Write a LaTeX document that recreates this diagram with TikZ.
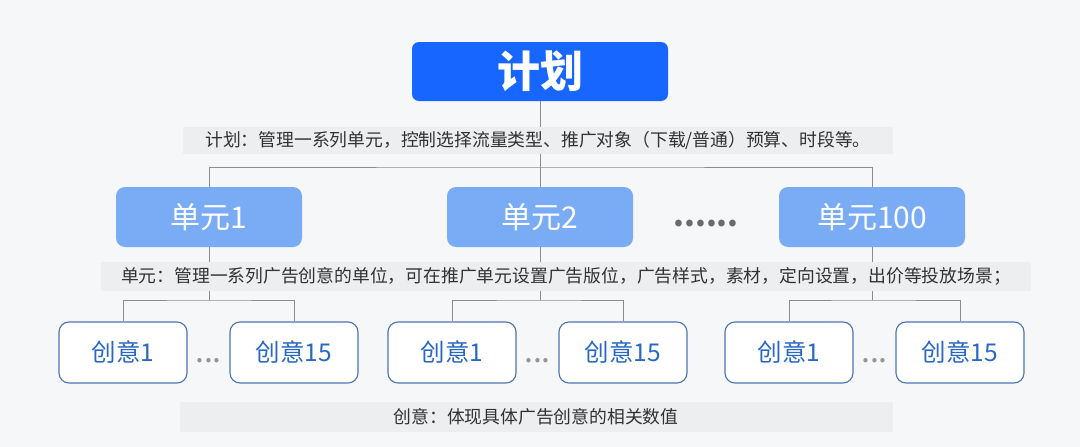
\documentclass[tikz,border=0pt]{standalone}
\usepackage{fontspec}
\setmainfont{Noto Sans CJK SC}
\usetikzlibrary{positioning}
\definecolor{planblue}{RGB}{22,102,255}
\definecolor{unitblue}{RGB}{122,172,246}
\definecolor{ideablue}{RGB}{40,104,196}
\definecolor{ideaedge}{RGB}{74,116,180}
\definecolor{bggray}{RGB}{246,247,249}
\definecolor{bargray}{RGB}{237,238,240}
\definecolor{linkgray}{RGB}{140,140,140}
\definecolor{txtgray}{RGB}{50,50,50}
\begin{document}
\begin{tikzpicture}[x=1pt,y=-1pt,line cap=butt,line join=miter]
	\tikzset{planbox/.style={rounded corners=7pt,fill=planblue,text=white,minimum width=256pt,minimum height=59pt,font=\fontsize{43}{50}\selectfont\bfseries},
		unitbox/.style={rounded corners=9pt,fill=unitblue,text=white,minimum width=186pt,minimum height=60pt,font=\fontsize{30}{36}\selectfont},
		ideabox/.style={rounded corners=10pt,draw=ideaedge,line width=1.1pt,fill=white,text=ideablue,minimum width=128pt,minimum height=61pt,font=\fontsize{24.5}{30}\selectfont},
		descbar/.style={fill=bargray,text=txtgray,inner sep=0pt,font=\fontsize{17.8}{21}\selectfont},
		link/.style={draw=linkgray,line width=0.9pt},
		dots/.style={inner sep=0pt,anchor=base}
	}
	\fill[bggray] (0,0) rectangle (1080,447);
	\useasboundingbox (0,0) rectangle (1080,447);
	% plan and units
	\node[planbox] (plan) at (540,71.5) {计划};
	\node[unitbox] (u1) at (209,217) {单元1};
	\node[unitbox] (u2) at (540,217) {单元2};
	\node[unitbox] (u3) at (872,217) {单元100};
	\node[dots,text=black!58,font=\fontsize{31}{36}\selectfont\bfseries] (udots) at (706,226) {......};
	\coordinate (pbus) at (540,167);
	\draw[link] (plan) -- (pbus);
	\draw[link] (u1) |- (pbus) -| (u3);
	\draw[link] (pbus) -- (u2);
	% ideas
	\foreach \n/\xa/\xb/\xu in {1/123/294/209, 2/452/623/540, 3/789/960/872}{
		\node[ideabox] (i\n a) at (\xa,352.5) {创意1};
		\node[ideabox] (i\n b) at (\xb,352.5) {创意15};
		\node[dots,text=black!42,font=\fontsize{32}{40}\selectfont] (d\n) at ({(\xa+\xb)/2},362) {...};
		\coordinate (b\n) at (\xu,300);
		\draw[link] (u\n) -- (b\n);
		\draw[link] (i\n a) |- (b\n) -| (i\n b);
	}
	% description bars
	\node[descbar,minimum width=710pt,minimum height=27pt] (plantxt) at (538,140) {计划：管理一系列单元，控制选择流量类型、推广对象（下载/普通）预算、时段等。};
	\node[descbar,minimum width=930pt,minimum height=29pt] (unittxt) at (566,276) {单元：管理一系列广告创意的单位，可在推广单元设置广告版位，广告样式，素材，定向设置，出价等投放场景；};
	\node[descbar,minimum width=713pt,minimum height=30pt] (ideatxt) at (536,417) {创意：体现具体广告创意的相关数值};
\end{tikzpicture}
\end{document}
